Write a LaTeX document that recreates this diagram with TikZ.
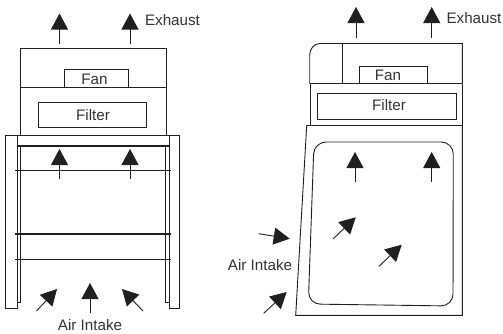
\documentclass[tikz,border=0pt]{standalone}
\usepackage{fontspec}
\setmainfont{Liberation Sans}
\usetikzlibrary{arrows.meta}
\definecolor{linedark}{gray}{0.12}
\tikzset{
  wall/.style={color=linedark, line width=0.9pt},
  thinwall/.style={color=linedark, line width=0.7pt},
  flow/.style={color=linedark, line width=0.9pt, -{Triangle[length=16pt,width=17pt]}},
  lbl/.style={font=\fontsize{15.2}{15.2}\selectfont, text=black!80, inner sep=0pt}
}
\begin{document}
\begin{tikzpicture}[x=1pt,y=-1pt]
\useasboundingbox (0,0) rectangle (503,333);
% front view
\draw[wall] (20.5,48) rectangle (166,135);
\draw[wall] (20.5,87)--(166,87);
\draw[wall] (64,87)--(64,69.5)--(128,69.5)--(128,87);
\node[lbl] (fanA) at (94.5,79) {Fan};
\draw[wall] (38.5,102) rectangle (146,127);
\node[lbl] (filterA) at (93,115.5) {Filter};
\draw[wall] (17,135) rectangle (169,146);
\draw[wall, line width=1.2pt] (17,146)--(169,146);
\draw[wall] (17,135)--(5.5,135)--(5.5,308)--(17,308)--(17,135);
\draw[wall] (169,135)--(179.5,135)--(179.5,308)--(169,308)--(169,135);
\draw[thinwall] (20.5,146)--(20.5,302)--(17,302);
\draw[thinwall] (165,146)--(165,302)--(169,302);
\foreach \y in {170,259}{
  \draw[thinwall] (15,\y)--(171,\y);
}
\draw[wall, line width=1.1pt] (15,234)--(171,234);
\foreach \x in {59.5,130}{
  \draw[flow] (\x,44)--(\x,13.5);
  \draw[flow] (\x,179)--(\x,149);
}
\draw[flow] (90,313)--(90,283);
\draw[flow] (36.5,311)--(57,289);
\draw[flow] (143,311)--(122,289);
\node[lbl] (exhaustA) at (172.5,20) {Exhaust};
\node[lbl] (intakeA) at (90,325) {Air Intake};
% side view
\draw[wall] (462.3,83.5)--(462.3,43.5)--(320,43.5) to[out=180,in=90] (309.7,55)--(309.7,83.5);
\draw[wall] (309.7,83.5)--(462.3,83.5);
\draw[wall] (342,43.5)--(342,83.5);
\draw[wall] (359.3,83.5)--(359.3,66.5)--(427.5,66.5)--(427.5,83.5);
\node[lbl] (fanB) at (388,75.5) {Fan};
\draw[wall] (310,83.5)--(310,125.5);
\draw[wall] (462.3,83.5)--(462.3,125.5);
\draw[wall] (317.7,93.5) rectangle (456,119);
\node[lbl] (filterB) at (389,105.5) {Filter};
\draw[wall] (306.7,125.5)--(462.3,125.5)--(462.3,315.3)--(295.7,315.3)--cycle;
\draw[wall, rounded corners=12pt] (314,142)--(453.3,142)--(453,306)--(308.3,304)--cycle;
\foreach \x in {355,431.7}{
  \draw[flow] (\x,182)--(\x,152);
}
\draw[flow] (356,38)--(356,7);
\draw[flow] (431.7,38)--(431.7,7);
\draw[flow] (333,239)--(355.7,217.3);
\draw[flow] (379,266.3)--(401.7,244.7);
\draw[flow] (258.7,233.7)--(289.7,238.7);
\draw[flow] (263.7,313.3)--(286.7,292);
\node[lbl] (exhaustB) at (474,18.5) {Exhaust};
\node[lbl] (intakeB) at (260,265) {Air Intake};
\end{tikzpicture}
\end{document}
